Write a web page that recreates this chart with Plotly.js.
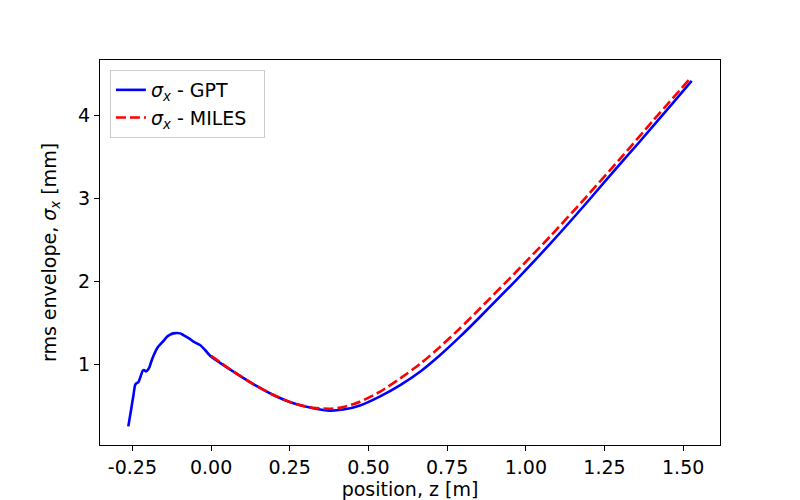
<!DOCTYPE html>
<html>
<head>
<meta charset="utf-8">
<script src="https://cdn.plot.ly/plotly-3.0.1.min.js"></script>
<style>
  html, body { margin: 0; padding: 0; background: #fff; }
  #chart { width: 800px; height: 500px; }
</style>
</head>
<body>
<div id="chart"></div>
<script>
// GPT envelope
var gptZ = [-0.263, -0.255, -0.247, -0.241, -0.236, -0.231, -0.224, -0.217, -0.212, -0.207,
            -0.201, -0.196, -0.19, -0.183, -0.17, -0.151, -0.14, -0.13, -0.12, -0.109,
            -0.098, -0.088, -0.07, -0.056, -0.035, -0.019, -0.003, 0.071, 0.134, 0.198,
            0.262, 0.325, 0.378, 0.42, 0.473, 0.537, 0.601, 0.664, 0.728, 0.791,
            0.855, 0.971, 1.077, 1.194, 1.257, 1.363, 1.469, 1.527];
var gptSigma = [0.247, 0.43, 0.617, 0.75, 0.77, 0.78, 0.85, 0.92, 0.925, 0.91,
                0.93, 0.96, 1.03, 1.10, 1.2, 1.28, 1.33, 1.355, 1.37, 1.375,
                1.37, 1.35, 1.31, 1.27, 1.229, 1.169, 1.1, 0.907, 0.758, 0.626,
                0.525, 0.465, 0.437, 0.45, 0.5, 0.61, 0.746, 0.907, 1.109, 1.33,
                1.571, 2.02, 2.45, 2.95, 3.23, 3.69, 4.16, 4.42];

// MILES envelope
var milesZ = [0, 0.071, 0.134, 0.198, 0.262, 0.325, 0.378, 0.42, 0.473, 0.537,
              0.601, 0.664, 0.728, 0.791, 0.855, 0.971, 1.077, 1.183, 1.3, 1.4, 1.525];
var milesSigma = [1.1, 0.907, 0.758, 0.626, 0.525, 0.47, 0.46, 0.48, 0.545, 0.666,
                  0.827, 1.0, 1.209, 1.431, 1.673, 2.12, 2.54, 2.98, 3.48, 3.92, 4.46];

var xTicks = [-0.25, 0, 0.25, 0.5, 0.75, 1.0, 1.25, 1.5];
var yTicks = [1, 2, 3, 4];

var gpt = {
    x: gptZ,
    y: gptSigma,
    mode: 'lines',
    type: 'scatter',
    name: '<i>σ</i><sub><i>x</i></sub> - GPT',
    line: {color: '#0000ff', width: 2.6, shape: 'spline', smoothing: 0.6}
};

var miles = {
    x: milesZ,
    y: milesSigma,
    mode: 'lines',
    type: 'scatter',
    name: '<i>σ</i><sub><i>x</i></sub> - MILES&nbsp;&nbsp;',
    line: {color: '#ff0000', width: 2.6, dash: '10px,4px', shape: 'spline', smoothing: 0.6}
};

var axisStyle = {
    showgrid: false,
    zeroline: false,
    showline: true,
    mirror: true,
    linecolor: '#000',
    linewidth: 1,
    ticks: 'outside',
    ticklen: 5,
    tickwidth: 1,
    tickcolor: '#000',
    tickfont: {family: 'DejaVu Sans', size: 19, color: '#000'}
};

var layout = {
    width: 800,
    height: 500,
    margin: {l: 100, r: 80, t: 60, b: 55},
    paper_bgcolor: '#fff',
    plot_bgcolor: '#fff',
    font: {family: 'DejaVu Sans', size: 19, color: '#000'},
    showlegend: true,
    legend: {
        x: 0.016,
        y: 0.974,
        xanchor: 'left',
        yanchor: 'top',
        bgcolor: 'rgba(255,255,255,0.8)',
        bordercolor: '#cccccc',
        borderwidth: 1,
        font: {family: 'DejaVu Sans', size: 19, color: '#000'}
    },
    xaxis: Object.assign({}, axisStyle, {
        range: [-0.353, 1.617],
        tickvals: xTicks,
        ticktext: xTicks.map(function(v) { return v.toFixed(2); }),
        title: {text: 'position, z [m]', font: {family: 'DejaVu Sans', size: 19}, standoff: 2}
    }),
    yaxis: Object.assign({}, axisStyle, {
        range: [0.022, 4.671],
        tickvals: yTicks,
        title: {text: 'rms envelope, <i>σ</i><sub><i>x</i></sub> [mm]', font: {family: 'DejaVu Sans', size: 19}, standoff: 16}
    })
};

Plotly.newPlot('chart', [gpt, miles], layout, {displayModeBar: false});
</script>
</body>
</html>
